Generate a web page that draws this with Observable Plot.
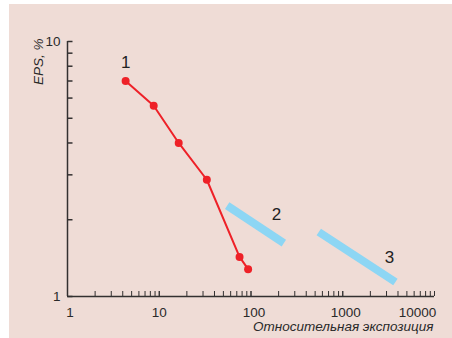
<!DOCTYPE html>
<html>
<head>
<meta charset="utf-8">
<script src="https://cdn.jsdelivr.net/npm/d3@7"></script>
<script src="https://cdn.jsdelivr.net/npm/@observablehq/plot@0.6"></script>
<style>
  html, body { margin: 0; padding: 0; background: #ffffff; }
  #chart { position: absolute; left: 9px; top: 4px; }
  svg { display: block; }
</style>
</head>
<body>
<div id="chart"></div>
<script>
// Curve 1 (red, measured points)
const series1X = [4.3, 8.7, 16.3, 33, 75, 93];
const series1Y = [7.0, 5.6, 4.0, 2.87, 1.43, 1.28];
// Curve 2 (blue band)
const series2X = [55, 228];
const series2Y = [2.27, 1.62];
// Curve 3 (blue band)
const series3X = [548, 3750];
const series3Y = [1.79, 1.14];
// Curve labels
const curveLabels = ["1", "2", "3"];
const labelX = [4.3, 190, 3230];
const labelY = [8.27, 2.10, 1.42];
// Axis ticks
const xMajorTicks = [1, 10, 100, 1000, 10000];
const xLabelShift = [2.5, 0, 3, 3, -17];
const yMajorTicks = [1, 10];
const xMinorTicks = [];
for (const dec of [1, 10, 100, 1000]) for (let m = 1; m <= 10; m++) xMinorTicks.push(dec * m);
const yMinorTicks = [1, 2, 3, 4, 5, 6, 7, 8, 9, 10];

const s1 = series1X.map((x, i) => ({x, y: series1Y[i]}));
const s2 = series2X.map((x, i) => ({x, y: series2Y[i]}));
const s3 = series3X.map((x, i) => ({x, y: series3Y[i]}));
const labels = curveLabels.map((t, i) => ({t, x: labelX[i], y: labelY[i]}));
const xLabels = xMajorTicks.map((v, i) => ({v, s: xLabelShift[i]}));

const W = 443, H = 334, ML = 58, MR = 18, MT = 37, MB = 42;
const frameW = W - ML - MR, frameH = H - MT - MB;
const tickLen = 5;
// tick length expressed in x-data units on the log scale (5 px of a 4-decade frame)
const yTickEnd = Math.pow(10, 4 * tickLen / frameW);
const yTickRows = yMinorTicks.map(v => ({a: 1, b: yTickEnd, y: v}));
const axisColor = "#333030";
const textColor = "#2a2a2a";
const font = "Liberation Sans, Arial, sans-serif";

const xLabelMarks = xLabels.map(d =>
  Plot.text([d], {x: "v", y: () => 1, dy: 16, dx: d.s, text: e => String(e.v), fontSize: 13.5, fill: textColor})
);

const chart = Plot.plot({
  width: W,
  height: H,
  marginLeft: ML,
  marginRight: MR,
  marginTop: MT,
  marginBottom: MB,
  style: {background: "#efdcd6", fontFamily: font, fontSize: "13.5px", color: textColor, overflow: "visible"},
  x: {type: "log", domain: [1, 10000], axis: null},
  y: {type: "log", domain: [1, 10], axis: null},
  marks: [
    ...xLabelMarks,
    Plot.text(yMajorTicks, {x: () => 1, y: d => d, dx: -7, textAnchor: "end", text: d => String(d), fontSize: 13.5, fill: textColor}),
    Plot.ruleY([1], {x1: 1, x2: 10000, stroke: axisColor, strokeWidth: 1.5}),
    Plot.ruleX([1], {y1: 1, y2: 10, stroke: axisColor, strokeWidth: 1.5}),
    Plot.tickX(xMinorTicks, {x: d => d, insetTop: frameH - tickLen, stroke: axisColor, strokeWidth: 1}),
    Plot.link(yTickRows, {x1: "a", x2: "b", y1: "y", y2: "y", stroke: axisColor, strokeWidth: 1.5}),
    Plot.line(s2, {x: "x", y: "y", stroke: "#8dd6f4", strokeWidth: 8, strokeLinecap: "butt"}),
    Plot.line(s3, {x: "x", y: "y", stroke: "#8dd6f4", strokeWidth: 8, strokeLinecap: "butt"}),
    Plot.line(s1, {x: "x", y: "y", stroke: "#ee2128", strokeWidth: 2}),
    Plot.dot(s1, {x: "x", y: "y", r: 4, fill: "#ee2128"}),
    Plot.text(labels, {x: "x", y: "y", text: "t", fontSize: 17, fill: "#222"}),
    Plot.text(["EPS, %"], {frameAnchor: "top-left", dx: -34, dy: -3, rotate: -90, textAnchor: "end", fontSize: 13.5, fontStyle: "italic", fill: textColor}),
    Plot.text(["Относительная экспозиция"], {frameAnchor: "bottom-right", dx: -1, dy: 34, textAnchor: "end", fontSize: 13.5, fontStyle: "italic", fill: textColor})
  ]
});
document.getElementById("chart").appendChild(chart);
</script>
</body>
</html>
